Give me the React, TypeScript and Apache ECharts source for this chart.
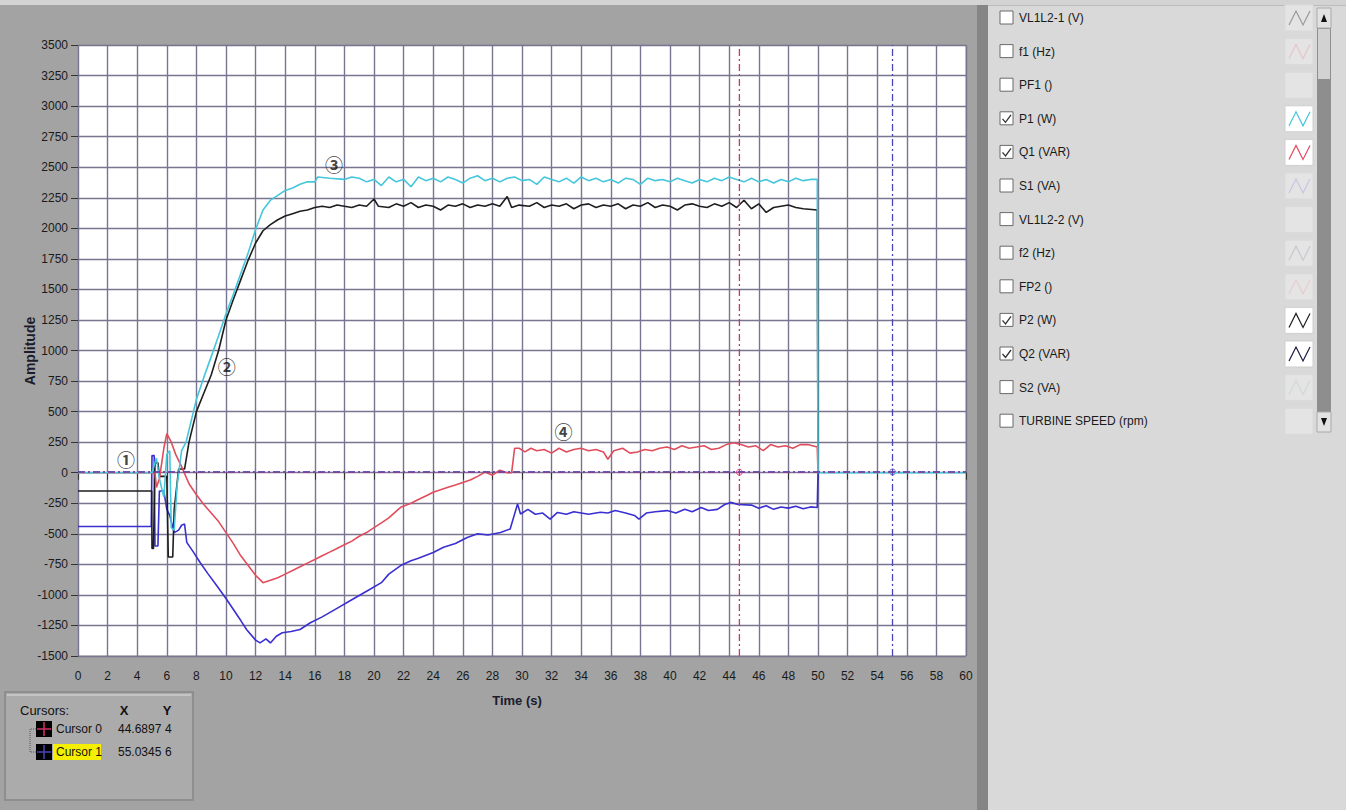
import React, { useEffect, useRef } from 'react';
import * as echarts from 'echarts';

// ---------- DATA ----------
const X_MIN = 0;
const X_MAX = 60;
const X_STEP = 2;
const Y_MIN = -1500;
const Y_MAX = 3500;
const Y_STEP = 250;

const P1_W: [number, number][] = [
  [0, 0], [4.95, 0], [5.0, 0], [5.3, 120], [5.5, -50], [5.8, -200], [6.0, 150], [6.2, 180], [6.3, -450], [6.5, -470],
  [6.7, -100], [7.0, 180], [7.3, 250], [7.6, 400], [8.0, 600], [8.5, 780], [9.0, 950], [9.5, 1120], [10.0, 1300],
  [10.5, 1460], [11.0, 1630], [11.5, 1800], [12.0, 1990], [12.5, 2150], [13.0, 2230], [13.5, 2270], [14.0, 2310],
  [14.5, 2330], [15.0, 2360], [15.5, 2380], [16.0, 2380], [16.2, 2420], [17, 2410], [18, 2400], [18.5, 2420],
  [19, 2410], [19.5, 2380], [20, 2400], [20.5, 2350], [21, 2420], [21.5, 2380], [22, 2400], [22.5, 2340],
  [23, 2420], [23.5, 2390], [24, 2410], [24.5, 2380], [25, 2420], [25.5, 2400], [26, 2370], [26.5, 2410],
  [27, 2430], [27.5, 2390], [28, 2410], [28.5, 2380], [29, 2410], [29.5, 2420], [30, 2390], [30.5, 2400],
  [31, 2360], [31.5, 2420], [32, 2400], [32.5, 2380], [33, 2410], [33.5, 2370], [34, 2420], [34.5, 2390],
  [35, 2410], [35.5, 2380], [36, 2400], [36.5, 2370], [37, 2410], [37.5, 2400], [38, 2360], [38.5, 2410],
  [39, 2390], [39.5, 2400], [40, 2380], [40.5, 2410], [41, 2390], [41.5, 2370], [42, 2400], [42.5, 2380],
  [43, 2410], [43.5, 2390], [44, 2420], [44.5, 2400], [45, 2380], [45.5, 2410], [46, 2380], [46.5, 2400],
  [47, 2370], [47.5, 2400], [48, 2380], [48.5, 2410], [49, 2390], [49.5, 2400], [49.95, 2400], [50, 0], [60, 0],
];

const Q1_VAR: [number, number][] = [
  [0, 0], [5.2, 0], [5.3, -120], [5.5, -50], [5.8, 200], [6.0, 320], [6.3, 250], [6.6, 150], [7.0, 50],
  [7.5, -90], [8.0, -180], [8.5, -260], [9.0, -330], [9.5, -400], [10.0, -490], [10.5, -580], [11.0, -680],
  [11.5, -760], [12.0, -840], [12.5, -900], [13.0, -880], [13.5, -860], [14.0, -830], [14.5, -800], [15.0, -770],
  [15.5, -740], [16.0, -710], [16.5, -680], [17.0, -650], [17.5, -620], [18.0, -590], [18.5, -560], [19.0, -520],
  [19.5, -490], [20.0, -450], [20.5, -410], [21.0, -370], [21.8, -283], [22.5, -250], [23.0, -220], [23.5, -190],
  [24.0, -160], [24.5, -140], [25.0, -120], [25.5, -100], [26, -80], [26.5, -60], [27, -30], [27.5, 5],
  [28, -20], [28.5, 20], [29.0, 0], [29.3, 0], [29.5, 200], [29.8, 200], [30.2, 170], [30.6, 200], [31, 180],
  [31.5, 190], [32, 160], [32.5, 200], [33, 170], [33.5, 190], [34, 200], [34.5, 180], [35, 190], [35.5, 170],
  [35.8, 110], [36.2, 180], [36.8, 200], [37.3, 160], [37.8, 170], [38.3, 190], [38.8, 180], [39.3, 200],
  [39.8, 210], [40.3, 190], [40.8, 220], [41.3, 200], [41.8, 210], [42.3, 220], [42.8, 190], [43.3, 200],
  [43.8, 230], [44.3, 245], [44.8, 230], [45.3, 210], [45.8, 220], [46.3, 180], [46.8, 230], [47.3, 210],
  [47.8, 220], [48.3, 200], [48.8, 230], [49.3, 230], [49.95, 210], [50, 0],
];

const P2_W: [number, number][] = [
  [0, -150], [4.98, -150], [5.0, -620], [5.1, -620], [5.2, 80], [5.4, 80], [5.5, -30], [6.0, -30], [6.1, -690],
  [6.4, -690], [6.5, -300], [6.8, 30], [7.2, 30], [7.5, 250], [8.0, 500], [8.5, 650], [9.0, 800], [9.5, 1000],
  [10.0, 1250], [10.5, 1420], [11.0, 1580], [11.5, 1740], [12.0, 1880], [12.5, 1980], [13.0, 2030], [13.5, 2070],
  [14.0, 2100], [14.5, 2120], [15.0, 2140], [15.5, 2150], [16.0, 2170], [16.5, 2180], [17, 2170], [17.5, 2190],
  [18, 2180], [18.5, 2170], [19, 2190], [19.5, 2180], [20, 2240], [20.3, 2180], [21, 2170], [21.5, 2200],
  [22, 2180], [22.5, 2210], [23, 2170], [23.5, 2190], [24, 2180], [24.5, 2150], [25, 2190], [25.5, 2180],
  [26, 2200], [26.5, 2170], [27, 2190], [27.5, 2180], [28, 2200], [28.5, 2180], [29, 2260], [29.3, 2170],
  [29.8, 2190], [30.5, 2180], [31, 2210], [31.5, 2170], [32, 2190], [32.5, 2180], [33, 2200], [33.5, 2160],
  [34, 2190], [34.5, 2200], [35, 2170], [35.5, 2190], [36, 2180], [36.5, 2200], [37, 2160], [37.5, 2190],
  [38, 2180], [38.5, 2210], [39, 2170], [39.5, 2190], [40, 2180], [40.5, 2150], [41, 2190], [41.5, 2200],
  [42, 2180], [42.5, 2170], [43, 2200], [43.5, 2180], [44, 2210], [44.5, 2170], [45, 2230], [45.5, 2160],
  [46, 2200], [46.5, 2130], [47, 2170], [47.5, 2180], [48, 2190], [48.5, 2170], [49, 2160], [49.95, 2150], [50, 0],
];

const Q2_VAR: [number, number][] = [
  [0, -440], [4.95, -440], [5.0, 140], [5.15, 140], [5.2, -600], [5.4, -600], [5.5, -150], [5.8, -150],
  [6.0, -300], [6.2, -350], [6.5, -490], [6.8, -470], [7.0, -430], [7.2, -420], [7.35, -570], [7.8, -650],
  [8.25, -735], [8.8, -830], [9.38, -925], [10.0, -1030], [10.5, -1120], [11.0, -1210], [11.4, -1285],
  [12.0, -1370], [12.3, -1393], [12.7, -1360], [13.0, -1393], [13.4, -1338], [13.8, -1310], [14.4, -1300],
  [15.0, -1283], [15.7, -1228], [16.5, -1180], [17.5, -1110], [18.5, -1040], [19.5, -970], [20.5, -900],
  [21.0, -830], [21.8, -760], [22.5, -720], [23.0, -700], [24.0, -653], [24.7, -610], [25.5, -580],
  [26.3, -530], [27.0, -500], [27.7, -510], [28.55, -490], [29.2, -460], [29.7, -256], [29.9, -338],
  [30.4, -300], [30.9, -340], [31.4, -330], [31.9, -380], [32.4, -325], [33, -340], [33.5, -320], [34, -330],
  [34.5, -340], [35.3, -324], [35.8, -330], [36.3, -310], [37, -330], [37.6, -350], [37.9, -380], [38.4, -330],
  [39, -320], [39.8, -310], [40.4, -330], [41, -300], [41.5, -320], [42.1, -285], [42.6, -310], [43.2, -300],
  [43.7, -260], [44.1, -243], [44.6, -260], [45.5, -265], [46, -290], [46.5, -270], [47, -300], [47.5, -280],
  [48, -290], [48.5, -275], [49, -295], [49.5, -280], [49.95, -285], [50, 0],
];

const CURSOR_NAMES = ['Cursor 0', 'Cursor 1'];
const CURSOR_X = [44.6897, 55.0345];
const CURSOR_Y = [4, 6];

const ANNOTATIONS: [number, number, string][] = [
  [3.25, 112, '①'],
  [10.05, 876, '②'],
  [17.3, 2530, '③'],
  [32.8, 342, '④'],
];

const PLOT_NAMES = [
  'VL1L2-1 (V)', 'f1 (Hz)', 'PF1 ()', 'P1 (W)', 'Q1 (VAR)', 'S1 (VA)', 'VL1L2-2 (V)',
  'f2 (Hz)', 'FP2 ()', 'P2 (W)', 'Q2 (VAR)', 'S2 (VA)', 'TURBINE SPEED (rpm)',
];
const PLOT_CHECKED = [false, false, false, true, true, false, false, false, false, true, true, false, false];

// ---------- STYLES ----------
const C_P1 = '#45c6da';
const C_Q1 = '#e04d5c';
const C_P2 = '#1e1e1e';
const C_Q2 = '#3a2fd0';
const C_CUR = ['#d4306c', '#4a44b8'];
const SWATCH_GLYPH = ['#9a9a9a', '#e6c4c8', null, C_P1, C_Q1, '#cbc2e4', null, '#c8c8d0', '#e8ccd0', C_P2, '#1a1a40', '#d0d8d8', null];
const FONT = "'Liberation Sans', Arial, sans-serif";

function buildGraphic() {
  const g: any[] = [];
  g.push({ type: 'rect', shape: { x: 0, y: 0, width: 1346, height: 5 }, style: { fill: '#d3d3d3' }, z: -10 });
  g.push({ type: 'rect', shape: { x: 977, y: 5, width: 11, height: 805 }, style: { fill: '#858585' }, z: -10 });
  g.push({ type: 'rect', shape: { x: 988, y: 5, width: 358, height: 805 }, style: { fill: '#d9d9d9' }, z: -10 });
  g.push({ type: 'rect', shape: { x: 988, y: 5, width: 358, height: 1 }, style: { fill: '#bcbcbc' }, z: -9 });

  g.push({
    type: 'text', x: 30, y: 351, rotation: Math.PI / 2,
    style: { text: 'Amplitude', font: `bold 14px ${FONT}`, fill: '#1c1c2c', align: 'center', verticalAlign: 'middle' },
  });
  g.push({
    type: 'text', x: 517, y: 700,
    style: { text: 'Time (s)', font: `bold 13px ${FONT}`, fill: '#1c1c2c', align: 'center', verticalAlign: 'middle' },
  });

  // cursor box
  g.push({ type: 'rect', shape: { x: 5, y: 692, width: 188, height: 108 }, style: { fill: '#ababab', stroke: '#8e8e8e', lineWidth: 2 } });
  g.push({ type: 'rect', shape: { x: 7, y: 694, width: 184, height: 2 }, style: { fill: '#c4c4c4' } });
  g.push({ type: 'text', x: 20, y: 710, style: { text: 'Cursors:', font: `13px ${FONT}`, fill: '#111', verticalAlign: 'middle' } });
  g.push({ type: 'text', x: 124, y: 710, style: { text: 'X', font: `bold 13px ${FONT}`, fill: '#111', align: 'center', verticalAlign: 'middle' } });
  g.push({ type: 'text', x: 167, y: 710, style: { text: 'Y', font: `bold 13px ${FONT}`, fill: '#111', align: 'center', verticalAlign: 'middle' } });
  g.push({ type: 'polyline', shape: { points: [[36, 729], [30, 729], [30, 752], [36, 752]] }, style: { stroke: '#555', lineWidth: 1, lineDash: [1, 1], fill: 'none' } });
  CURSOR_NAMES.forEach((name, i) => {
    const cy = 729 + i * 23;
    g.push({ type: 'rect', shape: { x: 36, y: cy - 8, width: 16, height: 16 }, style: { fill: '#000' } });
    g.push({ type: 'line', shape: { x1: 37, y1: cy, x2: 51, y2: cy }, style: { stroke: C_CUR[i], lineWidth: 1.5 } });
    g.push({ type: 'line', shape: { x1: 44, y1: cy - 7, x2: 44, y2: cy + 7 }, style: { stroke: C_CUR[i], lineWidth: 1.5 } });
    if (i === 1) {
      g.push({ type: 'rect', shape: { x: 53, y: cy - 8, width: 48, height: 16 }, style: { fill: '#f5f000' } });
    }
    g.push({ type: 'text', x: 56, y: cy, style: { text: name, font: `12px ${FONT}`, fill: '#111', verticalAlign: 'middle' } });
    g.push({ type: 'text', x: 118, y: cy, style: { text: String(CURSOR_X[i]), font: `12px ${FONT}`, fill: '#111', verticalAlign: 'middle' } });
    g.push({ type: 'text', x: 165, y: cy, style: { text: String(CURSOR_Y[i]), font: `12px ${FONT}`, fill: '#111', verticalAlign: 'middle' } });
  });

  // plot legend list
  PLOT_NAMES.forEach((name, i) => {
    const cy = 18 + i * 33.6;
    g.push({ type: 'rect', shape: { x: 1000, y: cy - 7, width: 13, height: 13 }, style: { fill: '#ffffff', stroke: '#6a6a6a', lineWidth: 1 } });
    if (PLOT_CHECKED[i]) {
      g.push({ type: 'polyline', shape: { points: [[1002.5, cy], [1005.5, cy + 3.5], [1011, cy - 4]] }, style: { stroke: '#333', lineWidth: 1.3, fill: 'none' } });
    }
    g.push({ type: 'text', x: 1019, y: cy, style: { text: name, font: `12px ${FONT}`, fill: '#1a1a1a', verticalAlign: 'middle' } });
    const checked = PLOT_CHECKED[i];
    g.push({ type: 'rect', shape: { x: 1285, y: cy - 13, width: 28, height: 26 }, style: { fill: checked ? '#ffffff' : '#e4e4e4', stroke: checked ? '#cfcfcf' : '#dadada', lineWidth: 1 } });
    const gc = SWATCH_GLYPH[i];
    if (gc) {
      g.push({
        type: 'polyline',
        shape: { points: [[1289, cy + 7], [1296, cy - 7], [1303, cy + 7], [1310, cy - 7]] },
        style: { stroke: gc, lineWidth: 1.2, fill: 'none' },
      });
    }
  });
  // scrollbar
  g.push({ type: 'rect', shape: { x: 1317, y: 8, width: 14, height: 424 }, style: { fill: '#8e8e8e' } });
  g.push({ type: 'rect', shape: { x: 1317, y: 8, width: 14, height: 20 }, style: { fill: '#e2e2e2', stroke: '#aaa', lineWidth: 1 } });
  g.push({ type: 'polygon', shape: { points: [[1321, 22], [1327, 22], [1324, 14]] }, style: { fill: '#111' } });
  g.push({ type: 'rect', shape: { x: 1318, y: 29, width: 12, height: 50 }, style: { fill: '#d2d2d2' } });
  g.push({ type: 'rect', shape: { x: 1317, y: 412, width: 14, height: 20 }, style: { fill: '#e2e2e2', stroke: '#aaa', lineWidth: 1 } });
  g.push({ type: 'polygon', shape: { points: [[1321, 418], [1327, 418], [1324, 426]] }, style: { fill: '#111' } });
  return g;
}

function lineSeries(name: string, data: [number, number][], color: string) {
  return {
    name, type: 'line', data, showSymbol: false, symbol: 'none',
    lineStyle: { color, width: 1.6 }, itemStyle: { color }, clip: true,
  };
}

export default function App() {
  const ref = useRef<HTMLDivElement>(null);
  useEffect(() => {
    const chart = echarts.init(ref.current!, null, { renderer: 'svg' });
    const dash = [7, 3, 2, 3];
    const option: any = {
      animation: false,
      backgroundColor: '#a3a3a3',
      grid: {
        left: 78, right: 380, top: 45, bottom: 154,
        show: true, backgroundColor: '#ffffff', borderColor: '#9a9a9a', borderWidth: 1,
      },
      xAxis: {
        type: 'value', min: X_MIN, max: X_MAX, interval: X_STEP,
        axisLine: { show: false },
        axisTick: { show: true, length: 7, lineStyle: { color: '#333' } },
        axisLabel: { color: '#1a1a1a', fontSize: 12, fontFamily: FONT, margin: 14, formatter: (v: number) => String(v) },
        splitLine: { show: true, lineStyle: { color: '#77758f', width: 1.4 } },
      },
      yAxis: {
        type: 'value', min: Y_MIN, max: Y_MAX, interval: Y_STEP,
        axisLine: { show: false },
        axisTick: { show: true, length: 7, lineStyle: { color: '#333' } },
        axisLabel: { color: '#1a1a1a', fontSize: 12, fontFamily: FONT, margin: 10, formatter: (v: number) => String(v) },
        splitLine: { show: true, lineStyle: { color: '#77758f', width: 1.4 } },
      },
      graphic: buildGraphic(),
      series: [
        lineSeries('Q2 (VAR)', Q2_VAR, C_Q2),
        lineSeries('P2 (W)', P2_W, C_P2),
        lineSeries('Q1 (VAR)', Q1_VAR, C_Q1),
        lineSeries('P1 (W)', P1_W, C_P1),
        ...CURSOR_X.map((cx, i) => ({
          name: CURSOR_NAMES[i] + ' x', type: 'line', symbol: 'none',
          data: [[cx, Y_MIN], [cx, Y_MAX]],
          lineStyle: { color: C_CUR[i], width: 1.3, type: dash },
        })),
        ...CURSOR_Y.map((cyv, i) => ({
          name: CURSOR_NAMES[i] + ' y', type: 'line', symbol: 'none',
          data: [[X_MIN, cyv], [X_MAX, cyv]],
          lineStyle: { color: C_CUR[i], width: 1.3, type: dash },
        })),
        {
          name: 'cursor points', type: 'scatter', symbol: 'circle', symbolSize: 6,
          data: CURSOR_X.map((cx, i) => ({ value: [cx, CURSOR_Y[i]], itemStyle: { color: 'transparent', borderColor: C_CUR[i], borderWidth: 1 } })),
        },
        {
          name: 'annotations', type: 'scatter', symbolSize: 0,
          data: ANNOTATIONS.map((a) => [a[0], a[1], a[2]]),
          label: {
            show: true, position: 'inside', formatter: (p: any) => p.value[2],
            fontSize: 18, fontWeight: 'bold', color: '#111', fontFamily: "'Noto Sans CJK SC', 'DejaVu Sans', sans-serif",
          },
        },
      ],
    };
    chart.setOption(option);
    return () => chart.dispose();
  }, []);
  return <div ref={ref} style={{ position: 'fixed', left: 0, top: 0, width: 1346, height: 810 }} />;
}
